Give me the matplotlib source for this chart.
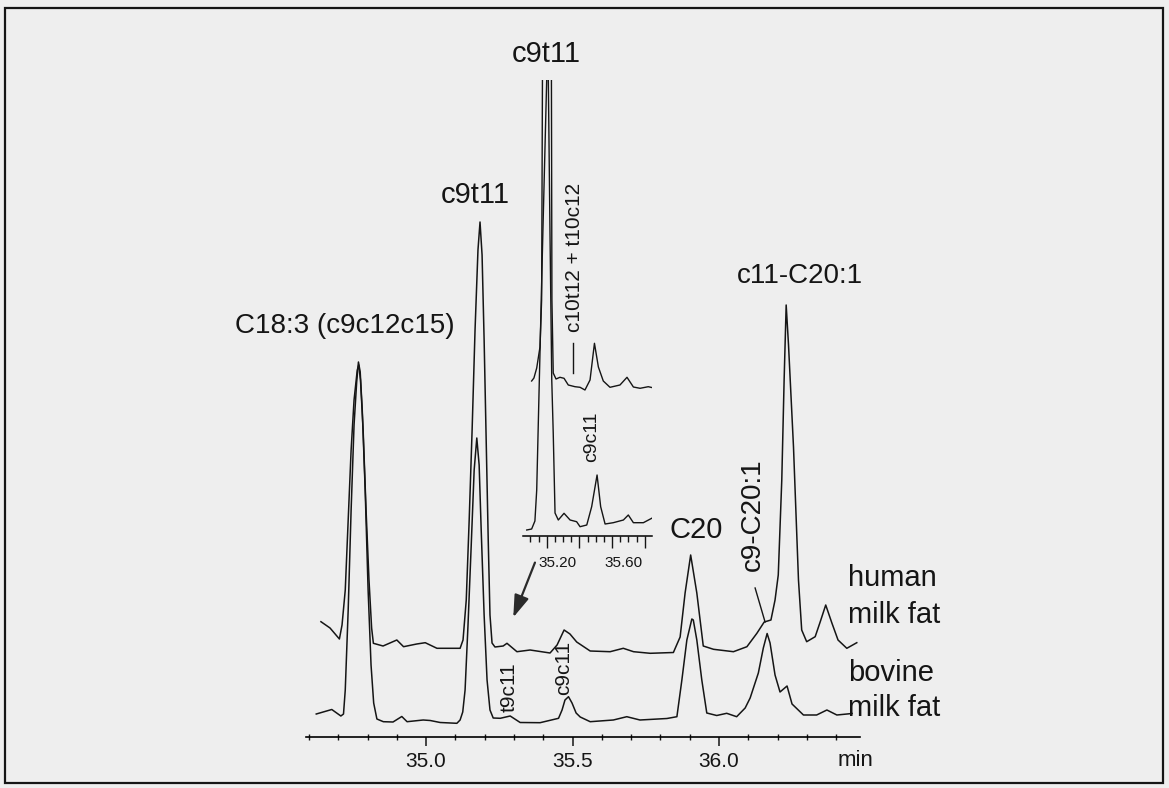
import matplotlib
matplotlib.use("Agg")
import matplotlib.pyplot as plt
from matplotlib.patches import Rectangle, FancyArrowPatch
from matplotlib.transforms import ScaledTranslation

plt.rcParams["font.family"] = ["Liberation Sans", "DejaVu Sans"]

# retention time (min) and detector response (arbitrary units)
bovine_time = [34.625, 34.678, 34.709, 34.718, 34.724, 34.734, 34.744, 34.754, 34.763, 34.769,
               34.775, 34.782, 34.792, 34.802, 34.812, 34.821, 34.832, 34.854, 34.887, 34.917,
               34.935, 34.990, 35.014, 35.048, 35.105, 35.116, 35.125, 35.133, 35.143, 35.154,
               35.164, 35.173, 35.181, 35.188, 35.198, 35.208, 35.218, 35.229, 35.253, 35.287,
               35.321, 35.389, 35.452, 35.464, 35.474, 35.486, 35.498, 35.512, 35.526, 35.560,
               35.639, 35.685, 35.730, 35.822, 35.856, 35.873, 35.890, 35.907, 35.912, 35.924,
               35.941, 35.958, 35.992, 36.026, 36.060, 36.089, 36.106, 36.134, 36.151, 36.164,
               36.174, 36.191, 36.208, 36.232, 36.249, 36.288, 36.333, 36.368, 36.402, 36.454]
bovine_resp = [2.3, 2.75, 2.1, 2.3, 4.7, 12.7, 22.7, 31.2, 35.5, 37.5,
               36.5, 32.7, 24.7, 14.7, 7.2, 3.4, 1.8, 1.53, 1.5, 2.05,
               1.53, 1.7, 1.65, 1.45, 1.37, 1.7, 2.5, 4.7, 11.2, 19.2,
               26.7, 29.9, 27.2, 20.7, 12.2, 5.7, 2.7, 1.9, 1.87, 2.1,
               1.45, 1.43, 1.87, 2.7, 3.7, 4.03, 3.4, 2.4, 2.0, 1.53,
               1.7, 2.03, 1.7, 1.85, 2.03, 5.7, 9.7, 11.8, 11.7, 9.7,
               5.7, 2.4, 2.15, 2.37, 2.03, 2.9, 3.9, 6.4, 8.9, 10.35,
               9.4, 6.2, 4.5, 5.1, 3.3, 2.2, 2.2, 2.7, 2.2, 2.35]

human_time = [34.641, 34.672, 34.704, 34.713, 34.724, 34.734, 34.744, 34.754, 34.765, 34.770,
              34.776, 34.785, 34.795, 34.805, 34.814, 34.820, 34.853, 34.900, 34.923, 34.968,
              34.997, 35.037, 35.116, 35.126, 35.137, 35.147, 35.157, 35.167, 35.177, 35.184,
              35.191, 35.198, 35.205, 35.212, 35.218, 35.225, 35.235, 35.263, 35.276, 35.310,
              35.355, 35.423, 35.447, 35.471, 35.491, 35.514, 35.560, 35.628, 35.673, 35.708,
              35.765, 35.844, 35.867, 35.884, 35.903, 35.924, 35.946, 35.981, 36.049, 36.095,
              36.129, 36.154, 36.177, 36.191, 36.202, 36.214, 36.222, 36.229, 36.237, 36.254,
              36.271, 36.282, 36.299, 36.328, 36.345, 36.364, 36.385, 36.406, 36.436, 36.470]
human_resp = [4.13, 3.5, 2.4, 3.8, 7.3, 14.3, 21.3, 26.3, 29.3, 29.8,
              28.3, 23.3, 15.3, 8.3, 3.5, 1.97, 1.7, 2.3, 1.63, 1.9,
              2.03, 1.47, 1.47, 2.3, 6.3, 14.3, 23.3, 33.3, 41.3, 44.1,
              40.8, 32.3, 22.3, 12.3, 4.8, 2.0, 1.6, 1.7, 1.97, 1.13,
              1.3, 1.0, 1.8, 3.3, 2.9, 2.1, 1.2, 1.13, 1.47, 1.13,
              0.97, 1.05, 2.6, 7.0, 10.8, 7.0, 1.7, 1.37, 1.13, 1.63,
              2.97, 4.1, 4.3, 6.3, 8.8, 18.3, 28.3, 35.8, 31.8, 21.6,
              8.3, 3.3, 2.13, 2.63, 4.1, 5.8, 4.0, 2.3, 1.47, 2.03]
human_offset = 7.4

# expanded CLA region (inset)
zoom_top_time = [35.108, 35.122, 35.139, 35.159, 35.169, 35.174, 35.202, 35.229, 35.232, 35.240,
                 35.257, 35.281, 35.306, 35.332, 35.373, 35.404, 35.434, 35.465, 35.492, 35.516,
                 35.546, 35.587, 35.648, 35.691, 35.730, 35.771, 35.821, 35.842]
zoom_top_resp = [1.9, 2.2, 3.2, 5.3, 10.0, 32.0, 80.0, 32.0, 10.0, 2.7,
                 2.1, 2.27, 2.17, 1.5, 1.33, 1.27, 1.0, 2.0, 5.67, 3.3,
                 1.9, 1.27, 1.5, 2.27, 1.3, 1.17, 1.33, 1.25]
zoom_top_offset = 13.6
zoom_bottom_time = [35.078, 35.108, 35.128, 35.139, 35.155, 35.177, 35.200, 35.205, 35.210, 35.220,
                    35.231, 35.240, 35.251, 35.271, 35.306, 35.343, 35.383, 35.404, 35.445, 35.475,
                    35.508, 35.530, 35.557, 35.607, 35.669, 35.699, 35.730, 35.791, 35.842]
zoom_bottom_resp = [0.6, 0.7, 1.5, 4.6, 15.6, 30.6, 45.6, 49.6, 45.6, 30.6,
                    15.6, 10.3, 2.3, 1.6, 2.27, 1.6, 1.43, 0.93, 1.1, 2.93,
                    6.1, 2.93, 1.2, 1.33, 1.6, 2.1, 1.33, 1.33, 1.77]

main_ticks = [35.0, 35.5, 36.0]
main_tick_labels = ["35.0", "35.5", "36.0"]
main_minor = [34.6, 34.7, 34.8, 34.9, 35.1, 35.2, 35.3, 35.4, 35.6, 35.7, 35.8, 35.9,
              36.1, 36.2, 36.3, 36.4]
zoom_ticks = [35.2, 35.4, 35.6, 35.8]
zoom_tick_labels = ["35.20", "", "35.60", ""]
zoom_minor = [35.10, 35.15, 35.25, 35.30, 35.35, 35.45, 35.50, 35.55, 35.65, 35.70, 35.75]

W, H = 1169, 788
ink = "#151515"

fig = plt.figure(figsize=(W / 100, H / 100), dpi=100, facecolor="#eeeeee")
fig.patches.append(Rectangle((5 / W, 1 - 783 / H), 1158 / W, 775 / H, transform=fig.transFigure,
                             fill=False, lw=1.6, ec=ink))

ax = fig.add_axes([306 / W, 1 - 737 / H, 554 / W, 717 / H])
ax.set_facecolor("none")
ax.plot(bovine_time, bovine_resp, color=ink, lw=1.1)
ax.plot(human_time, [v + human_offset for v in human_resp], color=ink, lw=1.1)
ax.set_xlim(34.590, 36.481)
ax.set_ylim(0, 71.7)
for side in ["left", "right", "top"]:
    ax.spines[side].set_visible(False)
ax.spines["bottom"].set_linewidth(1.2)
ax.set_yticks([])
ax.set_xticks(main_ticks)
ax.set_xticklabels(main_tick_labels)
ax.set_xticks(main_minor, minor=True)
ax.tick_params(axis="x", which="major", direction="out", length=6.5, width=1.1, pad=4,
               labelsize=15, colors=ink)
ax.tick_params(axis="x", which="minor", direction="inout", length=4, width=1.0, colors=ink)
ax.text(36.464, -2.3, "min", fontsize=16, ha="center", va="center", color=ink)

label_kw = dict(ha="center", va="center", color=ink)
ax.text(35.411, 68.3, "c9t11", fontsize=21, **label_kw)
ax.text(35.167, 54.2, "c9t11", fontsize=21, **label_kw)
ax.text(34.724, 41.1, "C18:3 (c9c12c15)", fontsize=20, **label_kw)
ax.text(36.276, 46.1, "c11-C20:1", fontsize=20, **label_kw)
ax.text(35.922, 20.7, "C20", fontsize=21, **label_kw)
ax.text(36.116, 22.2, "c9-C20:1", fontsize=20, rotation=90, **label_kw)
ax.plot([36.123, 36.157], [14.9, 11.5], color=ink, lw=1.0)
ax.text(35.283, 5.0, "t9c11", fontsize=15, rotation=90, **label_kw)
ax.text(35.471, 6.9, "c9c11", fontsize=15, rotation=90, **label_kw)
ax.text(36.440, 15.9, "human", fontsize=21, ha="left", va="center", color=ink)
ax.text(36.440, 12.2, "milk fat", fontsize=21, ha="left", va="center", color=ink)
ax.text(36.440, 6.4, "bovine", fontsize=21, ha="left", va="center", color=ink)
ax.text(36.440, 2.9, "milk fat", fontsize=21, ha="left", va="center", color=ink)
ax.add_patch(FancyArrowPatch((35.375, 17.7), (35.294, 11.7),
                             arrowstyle="-|>,head_length=0.9,head_width=0.3",
                             mutation_scale=15, lw=1.6, color="#2a2a2a"))

ins = fig.add_axes([523.3 / W, 1 - 536 / H, 128.4 / W, 456 / H])
ins.set_facecolor("none")
ins.plot(zoom_bottom_time, zoom_bottom_resp, color=ink, lw=1.0)
ins.plot(zoom_top_time, [v + zoom_top_offset for v in zoom_top_resp], color=ink, lw=1.0)
ins.set_xlim(35.057, 35.842)
ins.set_ylim(0, 45.6)
for side in ["left", "right", "top"]:
    ins.spines[side].set_visible(False)
ins.spines["bottom"].set_linewidth(1.1)
ins.set_yticks([])
ins.set_xticks(zoom_ticks)
ins.set_xticklabels(zoom_tick_labels)
ins.set_xticks(zoom_minor, minor=True)
ins.tick_params(axis="x", which="major", direction="out", length=8.6, width=1.0, pad=6,
                labelsize=11, colors=ink)
ins.tick_params(axis="x", which="minor", direction="out", length=4, width=1.0, colors=ink)
shift = ScaledTranslation(11 / 100, 0, fig.dpi_scale_trans)
for lab in ins.get_xticklabels():
    lab.set_transform(lab.get_transform() + shift)
ins.text(35.477, 9.9, "c9c11", fontsize=14, rotation=90, **label_kw)
ins.text(35.367, 27.9, "c10t12 + t10c12", fontsize=15, rotation=90, **label_kw)
ins.plot([35.363, 35.363], [19.3, 16.3], color=ink, lw=1.0)

fig.savefig("out.png", dpi=100, facecolor=fig.get_facecolor())
